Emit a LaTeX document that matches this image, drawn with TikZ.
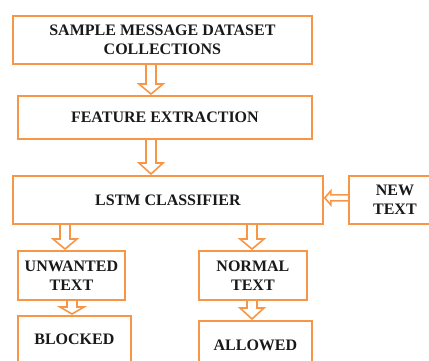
\documentclass[tikz,border=0pt]{standalone}
\usepackage{fontspec}
\setmainfont{Liberation Serif}
\usetikzlibrary{calc}
\definecolor{boxorange}{RGB}{247,150,70}
\tikzset{
  box/.style={draw=boxorange, line width=1.8pt, anchor=north west, align=center,
    inner sep=0pt, text=black!90, font=\fontsize{16}{19}\selectfont\bfseries},
  blockarrow/.style={draw=boxorange, line width=1.6pt, line join=miter}
}
% hollow block arrow pointing down: from, to, x position, head length
\newcommand\vblockarrow[4]{%
  \draw[blockarrow] let \p1=(#1.south), \p2=(#2.north) in
    ({#3pt-5pt},\y1) -- ({#3pt-5pt},{\y2+#4pt}) -- ({#3pt-12pt},{\y2+#4pt})
    -- (#3pt,{\y2+1pt}) -- ({#3pt+12pt},{\y2+#4pt}) -- ({#3pt+5pt},{\y2+#4pt})
    -- ({#3pt+5pt},\y1);}
% hollow block arrow pointing left: from, to
\newcommand\hblockarrow[2]{%
  \draw[blockarrow] let \p1=(#1.west), \p2=(#2.east) in
    (\x1,{\y1+5pt}) -- ({\x2+7pt},{\y1+5pt}) -- ({\x2+7pt},{\y1+9pt})
    -- ({\x2+1pt},{\y1+2pt}) -- ({\x2+7pt},{\y1-5pt}) -- ({\x2+7pt},{\y1-1pt})
    -- (\x1,{\y1-1pt});}
\begin{document}
\begin{tikzpicture}[x=1pt,y=-1pt]
  \useasboundingbox (0,0) rectangle (429,360);
  \node[box, minimum width=299pt, minimum height=48pt] (sample) at (12,15)
    {SAMPLE MESSAGE DATASET\\COLLECTIONS};
  \node[box, minimum width=294pt, minimum height=43pt] (feature) at (17,95)
    {FEATURE EXTRACTION};
  \node[box, minimum width=310pt, minimum height=48pt] (lstm) at (12,175)
    {LSTM CLASSIFIER};
  \node[box, minimum width=92pt, minimum height=48pt] (newtext) at (348,175)
    {NEW\\TEXT};
  \node[box, minimum width=107pt, minimum height=49pt] (unwanted) at (17,250)
    {UNWANTED\\TEXT};
  \node[box, minimum width=108pt, minimum height=49pt] (normal) at (198,250)
    {NORMAL\\TEXT};
  \node[box, minimum width=113pt, minimum height=47pt] (blocked) at (17,315)
    {BLOCKED};
  \node[box, minimum width=113pt, minimum height=49pt] (allowed) at (198,320)
    {ALLOWED};

  \vblockarrow{sample}{feature}{151}{11}
  \vblockarrow{feature}{lstm}{151}{12}
  \vblockarrow{lstm}{unwanted}{65}{11}
  \vblockarrow{lstm}{normal}{252}{11}
  \vblockarrow{unwanted}{blocked}{72}{8}
  \vblockarrow{normal}{allowed}{252}{12}
  \hblockarrow{newtext}{lstm}
\end{tikzpicture}
\end{document}
